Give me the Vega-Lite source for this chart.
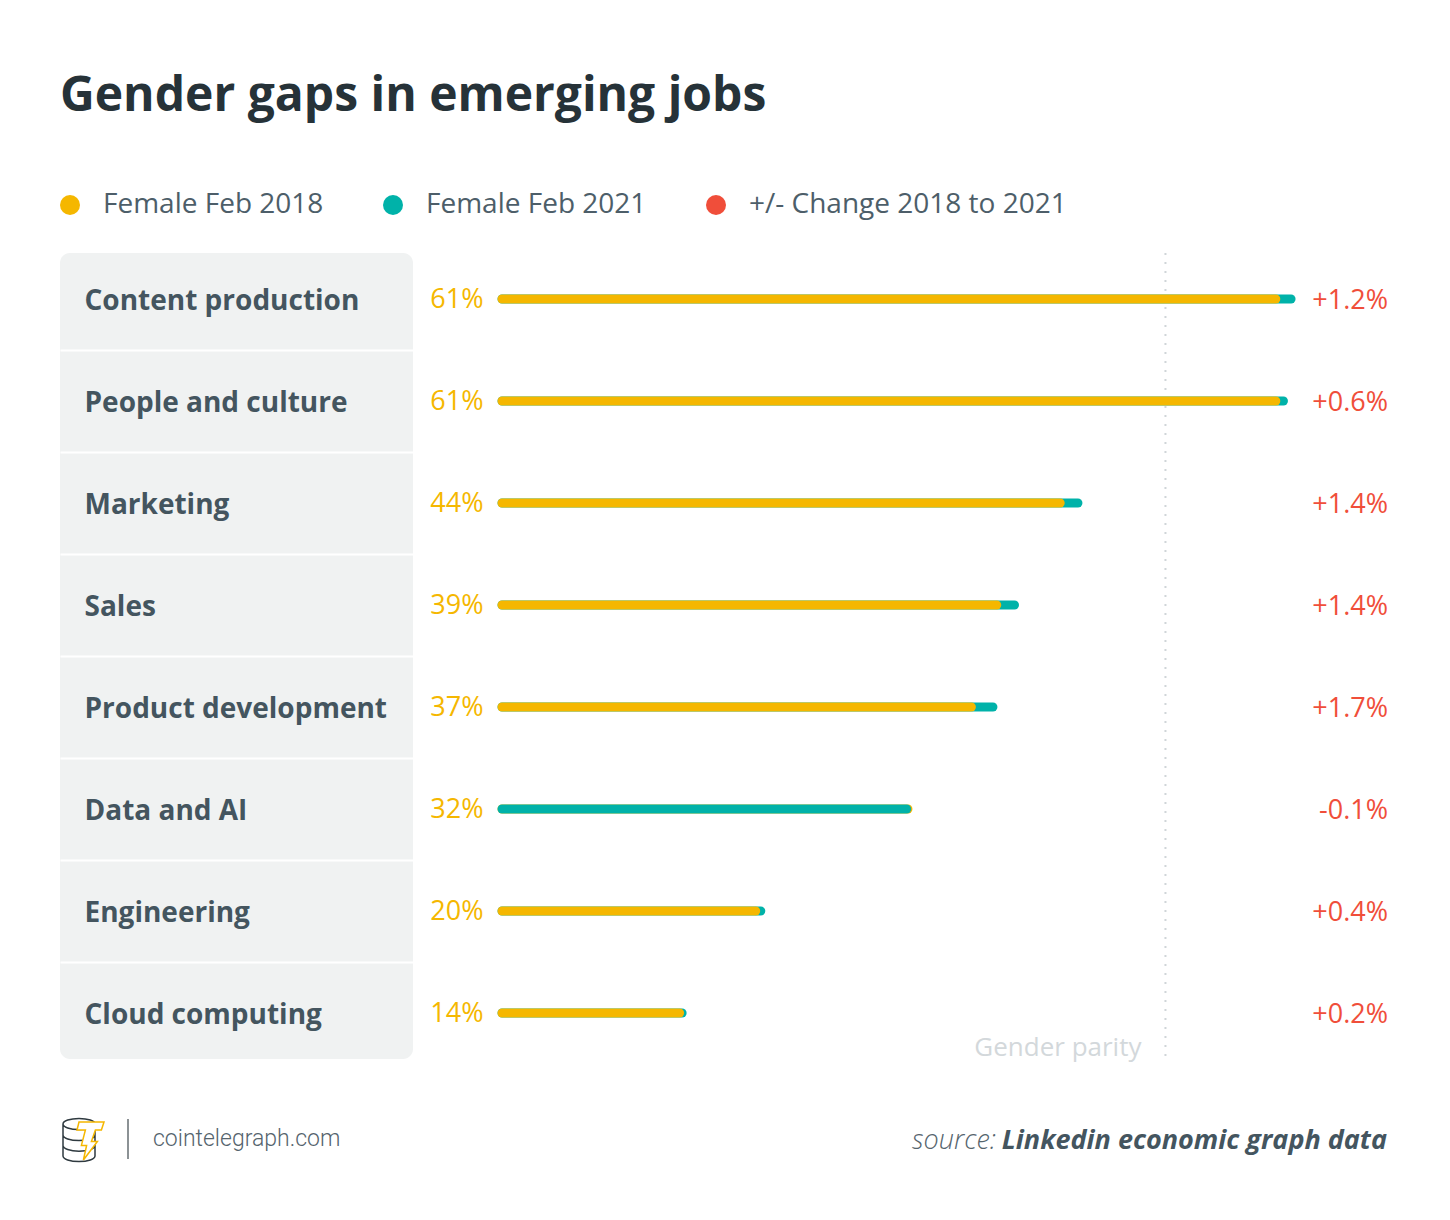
{
  "$schema": "https://vega.github.io/schema/vega-lite/v6.json",
  "background": "white",
  "padding": {"left": 60, "top": 73, "right": 60, "bottom": 60},
  "bounds": "flush",
  "spacing": 89,
  "title": {
    "text": "Gender gaps in emerging jobs",
    "anchor": "start",
    "frame": "group",
    "font": "Open Sans",
    "fontSize": 48,
    "fontWeight": "bold",
    "color": "#263238",
    "offset": 70
  },
  "config": {
    "view": {"stroke": null},
    "font": "Open Sans",
    "locale": {
      "number": {"decimal": ".", "thousands": ",", "grouping": [3], "currency": ["$", ""], "minus": "-"}
    }
  },
  "datasets": {
    "jobs": [
      {"job": "Content production", "f2018": 0.61, "f2021": 0.622, "change": 0.012},
      {"job": "People and culture", "f2018": 0.61, "f2021": 0.616, "change": 0.006},
      {"job": "Marketing", "f2018": 0.44, "f2021": 0.454, "change": 0.014},
      {"job": "Sales", "f2018": 0.39, "f2021": 0.404, "change": 0.014},
      {"job": "Product development", "f2018": 0.37, "f2021": 0.387, "change": 0.017},
      {"job": "Data and AI", "f2018": 0.32, "f2021": 0.319, "change": -0.001},
      {"job": "Engineering", "f2018": 0.20, "f2021": 0.204, "change": 0.004},
      {"job": "Cloud computing", "f2018": 0.14, "f2021": 0.142, "change": 0.002}
    ],
    "footer": [
      {"site": "cointelegraph.com", "prefix": "source:", "source": "Linkedin economic graph data"}
    ],
    "parity": [
      {"label": "Gender parity", "share": 0.523}
    ]
  },
  "resolve": {"scale": {"color": "shared"}, "legend": {"color": "shared"}},
  "hconcat": [
    {
      "width": 353,
      "height": 806,
      "view": {"fill": "#f0f2f2", "cornerRadius": 10, "stroke": null},
      "layer": [
        {
          "data": {"name": "jobs"},
          "mark": {"type": "rect", "opacity": 0},
          "encoding": {
            "y": {
              "field": "job",
              "type": "nominal",
              "sort": null,
              "scale": {"range": [-5, 811], "paddingInner": 0, "paddingOuter": 0},
              "axis": {
                "orient": "left",
                "title": null,
                "domain": false,
                "ticks": false,
                "labelPadding": -24,
                "labelOffset": 2,
                "labelAlign": "left",
                "labelBaseline": "middle",
                "labelFont": "Open Sans",
                "labelFontWeight": "bold",
                "labelFontSize": 28,
                "labelColor": "#44555f",
                "labelLimit": 400,
                "grid": true,
                "tickBand": "extent",
                "gridColor": "#ffffff",
                "gridWidth": 2,
                "gridOpacity": 1
              }
            }
          }
        },
        {
          "data": {"name": "footer"},
          "mark": {"type": "rule", "color": "#8c9295", "strokeWidth": 2},
          "encoding": {
            "x": {"value": 68},
            "y": {"value": {"expr": "height + 60"}},
            "y2": {"value": {"expr": "height + 100"}}
          }
        },
        {
          "data": {"name": "footer"},
          "mark": {
            "type": "point",
            "filled": false,
            "shape": "M -1 -0.75 A 0.8 0.28 0 1 0 0.6 -0.75 A 0.8 0.28 0 1 0 -1 -0.75 M -1 -0.75 L -1 0.85 M 0.6 -0.75 L 0.6 0.85 M -1 -0.2 A 0.8 0.28 0 0 0 0.6 -0.2 M -1 0.33 A 0.8 0.28 0 0 0 0.6 0.33 M -1 0.85 A 0.8 0.28 0 0 0 0.6 0.85",
            "size": 1600,
            "stroke": "#2f3a40",
            "strokeWidth": 1.5,
            "opacity": 1
          },
          "encoding": {
            "x": {"value": 23},
            "y": {"value": {"expr": "height + 80"}}
          }
        },
        {
          "data": {"name": "footer"},
          "mark": {
            "type": "point",
            "filled": true,
            "shape": "M -0.2 -0.85 L 1.05 -0.85 L 0.92 -0.45 L 0.62 -0.45 L 0.42 0.12 L 0.72 0.12 L 0.02 1.05 L 0.18 0.32 L -0.08 0.32 L 0.12 -0.45 L -0.3 -0.45 Z",
            "size": 1600,
            "fill": "#ffffff",
            "stroke": "#f5b700",
            "strokeWidth": 1.5,
            "opacity": 1
          },
          "encoding": {
            "x": {"value": 23},
            "y": {"value": {"expr": "height + 80"}}
          }
        },
        {
          "data": {"name": "footer"},
          "mark": {"type": "text", "align": "left", "baseline": "alphabetic", "font": "Roboto", "fontWeight": 300, "fontSize": 23, "color": "#55646d", "dx": 93, "dy": 87},
          "encoding": {
            "x": {"value": 0},
            "y": {"value": "height"},
            "text": {"field": "site"}
          }
        }
      ]
    },
    {
      "width": 888,
      "height": 806,
      "layer": [
        {
          "data": {"name": "parity"},
          "mark": {"type": "rule", "strokeDash": [2, 7], "color": "#d0d5d8", "strokeWidth": 2},
          "encoding": {
            "x": {"field": "share", "type": "quantitative", "scale": {"domain": [0, 0.7], "nice": false, "zero": true}, "axis": null}
          }
        },
        {
          "data": {"name": "parity"},
          "mark": {"type": "text", "align": "right", "baseline": "alphabetic", "fontSize": 26, "color": "#d3d8db", "dx": -24, "dy": -3},
          "encoding": {
            "x": {"field": "share", "type": "quantitative"},
            "y": {"value": "height"},
            "text": {"field": "label"}
          }
        },
        {
          "data": {"name": "jobs"},
          "transform": [{"fold": ["f2018", "f2021"], "as": ["series", "value"]}],
          "mark": {"type": "rule", "strokeWidth": 9, "strokeCap": "round"},
          "encoding": {
            "y": {"field": "job", "type": "nominal", "sort": null, "scale": {"range": [-5, 811], "paddingInner": 0, "paddingOuter": 0}, "axis": null},
            "x": {"field": "value", "type": "quantitative"},
            "x2": {"datum": 0},
            "color": {
              "field": "series",
              "type": "nominal",
              "scale": {"domain": ["f2018", "f2021", "change"], "range": ["#f5b700", "#00b2a9", "#f04e3a"]},
              "legend": {
                "orient": "top",
                "direction": "horizontal",
                "title": null,
                "padding": 0,
                "labelExpr": "{'f2018': 'Female Feb 2018', 'f2021': 'Female Feb 2021', 'change': '+/- Change 2018 to 2021'}[datum.label]",
                "labelFont": "Open Sans",
                "labelFontSize": 28,
                "labelColor": "#4d5e69",
                "labelOffset": 19,
                "columnPadding": 59,
                "symbolOffset": -4,
                "symbolType": "circle",
                "symbolSize": 400,
                "labelLimit": 500,
                "offset": 20,
                "encode": {
                  "symbols": {
                    "update": {
                      "fill": {"scale": "color", "field": "value"},
                      "stroke": {"value": "transparent"},
                      "strokeWidth": {"value": 0},
                      "opacity": {"value": 1},
                      "shape": {"value": "circle"},
                      "size": {"value": 400}
                    }
                  }
                }
              }
            },
            "order": {"field": "value", "type": "quantitative", "sort": "descending"}
          }
        },
        {
          "data": {"name": "jobs"},
          "mark": {"type": "text", "align": "right", "baseline": "middle", "fontSize": 27, "color": "#f5b700", "dx": -18.5, "dy": 1},
          "encoding": {
            "y": {"field": "job", "type": "nominal", "sort": null},
            "x": {"datum": 0},
            "text": {"field": "f2018", "type": "quantitative", "format": ".0%"}
          }
        },
        {
          "data": {"name": "jobs"},
          "mark": {"type": "text", "align": "right", "baseline": "middle", "fontSize": 27, "dx": -2, "dy": 2},
          "encoding": {
            "y": {"field": "job", "type": "nominal", "sort": null},
            "x": {"value": "width"},
            "color": {"datum": "change"},
            "text": {"field": "change", "type": "quantitative", "format": "+.1%"}
          }
        },
        {
          "data": {"name": "footer"},
          "mark": {"type": "text", "align": "right", "baseline": "alphabetic", "fontSize": 27, "fontStyle": "italic", "fontWeight": "bold", "color": "#44555f", "dx": -3, "dy": 90},
          "encoding": {
            "x": {"value": "width"},
            "y": {"value": "height"},
            "text": {"field": "source"}
          }
        },
        {
          "data": {"name": "footer"},
          "mark": {"type": "text", "align": "right", "baseline": "alphabetic", "fontSize": 27, "fontStyle": "italic", "fontWeight": 300, "color": "#55646d", "dx": -394, "dy": 90},
          "encoding": {
            "x": {"value": "width"},
            "y": {"value": "height"},
            "text": {"field": "prefix"}
          }
        }
      ]
    }
  ]
}
